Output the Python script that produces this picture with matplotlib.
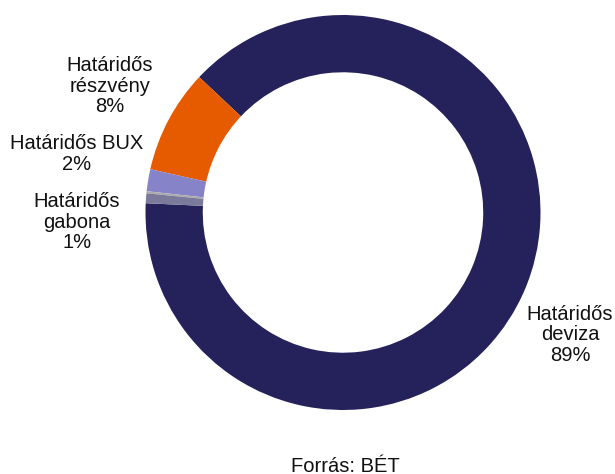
import matplotlib
matplotlib.use('Agg')
import matplotlib.pyplot as plt

# share of turnover by product (percent)
labels = ['Határidős\ndeviza\n89%', 'Határidős\nrészvény\n8%', 'Határidős BUX\n2%', '', 'Határidős\ngabona\n1%']
values = [88.7, 8.5, 1.8, 0.17, 0.8]
colors = ['#25215A', '#E65A00', '#8683C9', '#ABABAB', '#7C7A9A']
source = 'Forrás: BÉT'

W, H = 615, 474
plt.rcParams['font.family'] = ['Liberation Sans', 'DejaVu Sans']

fig = plt.figure(figsize=(W / 100, H / 100), dpi=100)
fig.patch.set_facecolor('white')

# ring centre (343, 212.5) px, outer radius 197.5 px
cx, cy, r = 343, 212.5, 197.5
ax = fig.add_axes([(cx - r) / W, (H - cy - r) / H, 2 * r / W, 2 * r / H])
ax.pie(values, colors=colors, startangle=177.3, counterclock=True,
       radius=1.0, wedgeprops=dict(width=0.29, linewidth=0))
ax.set_xlim(-1, 1)
ax.set_ylim(-1, 1)
ax.set_aspect('equal')
ax.axis('off')

# label positions in pixels (x centre, y centre from top)
label_pos = [(570, 335), (110, 86), (77, 154), None, (77, 222)]
for txt, pos in zip(labels, label_pos):
    if pos is None:
        continue
    fig.text(pos[0] / W, 1 - pos[1] / H, txt, ha='center', va='center',
             fontsize=14.5, linespacing=1.1, color='#111111')

fig.text(345 / W, 1 - 466 / H, source, ha='center', va='center',
         fontsize=14.5, color='#111111')

fig.savefig('out.png', dpi=100)
